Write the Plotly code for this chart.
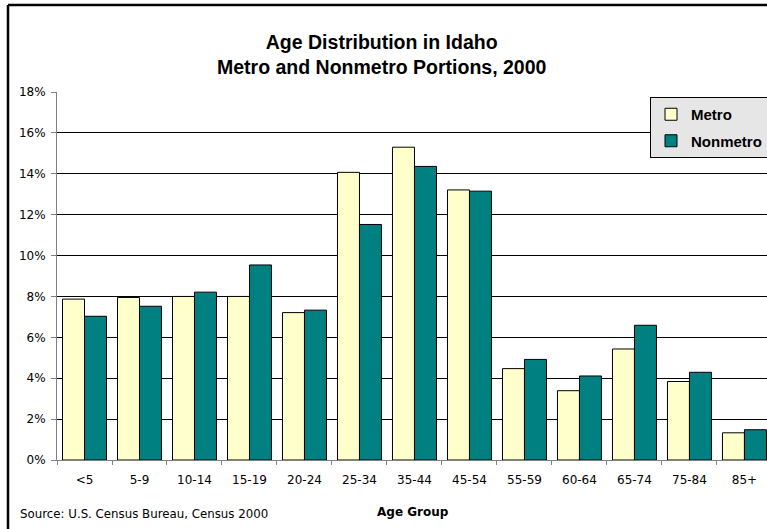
import plotly.graph_objects as go

age_groups = ["<5", "5-9", "10-14", "15-19", "20-24", "25-34", "35-44",
              "45-54", "55-59", "60-64", "65-74", "75-84", "85+"]
metro = [7.87, 7.95, 8.0, 8.0, 7.21, 14.07, 15.30, 13.21, 4.47, 3.39, 5.43, 3.84, 1.33]
nonmetro = [7.03, 7.52, 8.21, 9.54, 7.33, 11.52, 14.36, 13.15, 4.92, 4.11, 6.59, 4.29, 1.48]

TICK_FONT = dict(family="DejaVu Sans", size=12, color="black")

fig = go.Figure()
fig.add_bar(x=age_groups, y=metro, name="Metro", legendgroup="m",
            marker=dict(color="#FFFFCC", line=dict(color="black", width=1)))
fig.add_bar(x=age_groups, y=nonmetro, name="Nonmetro", legendgroup="n",
            marker=dict(color="#008080", line=dict(color="black", width=1)))

fig.update_layout(
    width=767, height=529,
    margin=dict(l=57, r=0, t=92, b=69, autoexpand=False),
    paper_bgcolor="white", plot_bgcolor="white",
    barmode="group", bargap=0.2, bargroupgap=0,
    showlegend=True,
    legend=dict(x=(650 - 57) / 710, y=1 - (97 - 92) / 368, xanchor="left", yanchor="top",
                bgcolor="#E6E6E6", bordercolor="black", borderwidth=1,
                font=dict(family="Liberation Sans", size=15, color="black", weight="bold"),
                traceorder="grouped", tracegroupgap=4, itemwidth=30),
    font=TICK_FONT,
)

fig.update_xaxes(
    range=[-0.5, 12.41], tickfont=TICK_FONT, ticklabelstandoff=9,
    showline=True, linecolor="#808080", linewidth=1,
    ticks="outside", tickson="boundaries", ticklen=4, tickcolor="#808080",
    showgrid=False,
)
fig.update_yaxes(
    range=[0, 18], dtick=2, ticksuffix="%", tickfont=TICK_FONT, ticklabelstandoff=3,
    showline=True, linecolor="#808080", linewidth=1,
    ticks="outside", ticklen=5, tickcolor="#808080",
    showgrid=True, gridcolor="black", gridwidth=1, zeroline=False,
)

fig.add_annotation(text="<b>Age Distribution in Idaho<br>Metro and Nonmetro Portions, 2000</b>",
                   xref="paper", yref="paper", x=(382 - 57) / 710, y=1 + (92 - 55) / 368,
                   showarrow=False, xanchor="center", yanchor="middle",
                   font=dict(family="Liberation Sans", size=19.5, color="black"))
fig.add_annotation(text="<b>Age Group</b>", xref="paper", yref="paper",
                   x=(413 - 57) / 710, y=-(512 - 460) / 368, showarrow=False,
                   xanchor="center", yanchor="middle",
                   font=dict(family="DejaVu Sans", size=12, color="black"))
fig.add_annotation(text="Source: U.S. Census Bureau, Census 2000", xref="paper", yref="paper",
                   x=(18 - 57) / 710, y=-(514 - 460) / 368, showarrow=False,
                   xanchor="left", yanchor="middle",
                   font=dict(family="DejaVu Sans", size=11.8, color="black"))

# chart frame (left and top edges; the rest falls outside the picture)
frame_x = (8 - 57) / 710
frame_y = 1 + (92 - 5) / 368
fig.add_shape(type="line", xref="paper", yref="paper",
              x0=frame_x, x1=frame_x, y0=-0.3, y1=frame_y,
              line=dict(color="black", width=2.5))
fig.add_shape(type="line", xref="paper", yref="paper",
              x0=frame_x, x1=1.1, y0=frame_y, y1=frame_y,
              line=dict(color="black", width=2.5))

fig.write_html("out.html", config={"displayModeBar": False},
               post_script="document.body.style.margin='0';document.body.style.overflow='hidden';")
